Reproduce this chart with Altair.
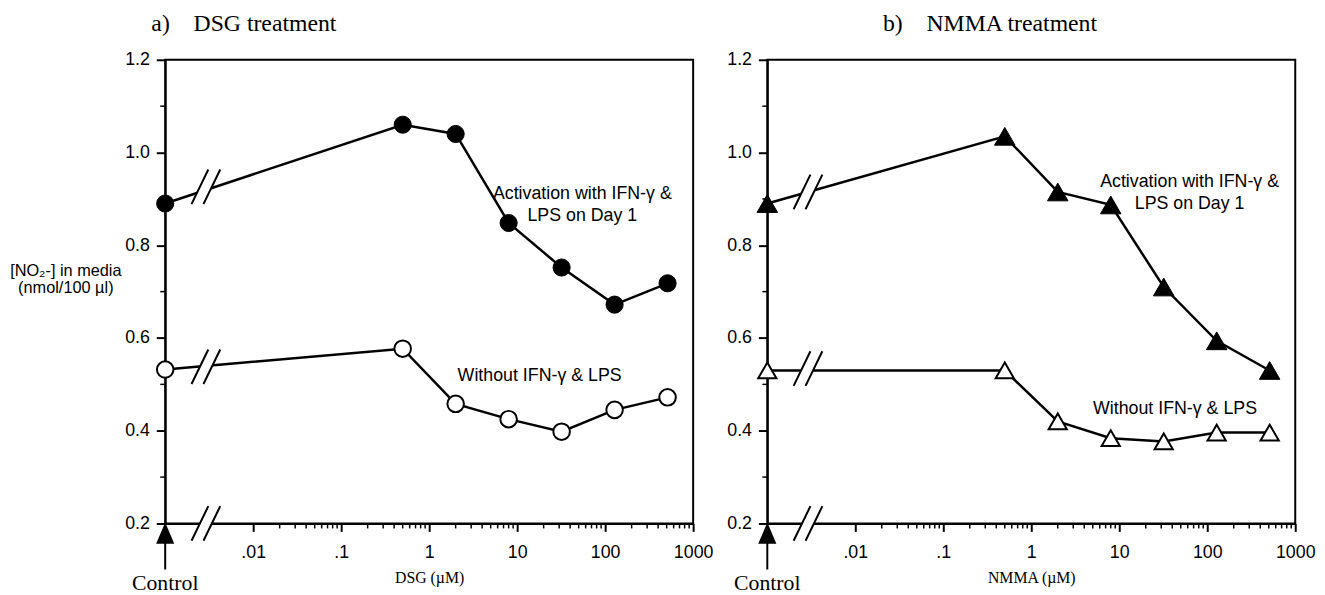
import altair as alt
import pandas as pd

# ---- data ----
control_x = 0.001
conc = [0.5, 2, 8, 32, 128, 512]

dsg_act = [0.89, 1.06, 1.04, 0.848, 0.752, 0.672, 0.718]
dsg_none = [0.532, 0.577, 0.458, 0.425, 0.398, 0.445, 0.472]
nmma_act = [0.89, 1.035, 0.915, 0.887, 0.71, 0.594, 0.53]
nmma_none = [0.53, 0.53, 0.42, 0.384, 0.377, 0.396, 0.396]

# y of the "//" break symbols on each line, plus the x-axis break
break_x = 0.0029
dsg_breaks = [0.926, 0.538, 0.2]
nmma_breaks = [0.915, 0.534, 0.2]

x_major = [0.01, 0.1, 1, 10, 100, 1000]
x_labels = [".01", ".1", "1", "10", "100", "1000"]
x_minor = [m * 10.0 ** k for k in range(-2, 3) for m in range(2, 10)]
y_major = [0.2, 0.4, 0.6, 0.8, 1.0, 1.2]
y_minor = [0.3, 0.5, 0.7, 0.9, 1.1]

ann_act = "Activation with IFN-\u03b3 &\nLPS on Day 1"
ann_none = "Without IFN-\u03b3 & LPS"
dsg_ann = [(55, 0.911, ann_act), (18, 0.517, ann_none)]
nmma_ann = [(63, 0.937, ann_act), (43, 0.446, ann_none)]

SANS = "Liberation Sans"
SERIF = "Liberation Serif"

GAP_PATH = "M-0.83,1L0.14,-1L0.83,-1L-0.14,1Z"
SLASH_PATH = "M-0.83,1L0.14,-1M-0.14,1L0.83,-1"
ARROW_PATH = "M0,-1L0.34,-0.2L-0.34,-0.2ZM0,-0.25L0,1"

label_expr = " : ".join(
    f"abs(datum.value - {v}) < {v/100} ? '{l}'" for v, l in zip(x_major, x_labels)
) + " : ''"


def panel(act, none, breaks, anns, act_shape, sizes, title_text, title_dx, xtitle, show_ytitle):
    xs = [control_x] + conc
    x_scale = alt.Scale(type="log", domain=[0.001, 1000], nice=False)
    y_scale = alt.Scale(domain=[0.2, 1.2], nice=False, zero=False)

    X = alt.X(
        "x:Q",
        scale=x_scale,
        axis=alt.Axis(
            values=x_major,
            labelExpr=label_expr,
            tickSize=8,
            tickWidth=2,
            tickColor="black",
            domainColor="black",
            domainWidth=2,
            labelFont=SANS,
            labelFontSize=18,
            labelColor="black",
            labelPadding=12,
            labelFlush=False,
            labelOverlap=False,
            grid=False,
            title=xtitle,
            titleFont=SERIF,
            titleFontSize=16,
            titleFontWeight="normal",
            titleColor="black",
            titlePadding=9,
        ),
    )
    yaxis = dict(
        values=y_major,
        format=".1f",
        tickSize=9,
        tickWidth=2,
        tickColor="black",
        domainColor="black",
        domainWidth=2,
        labelFont=SANS,
        labelFontSize=18,
        labelColor="black",
        labelPadding=7,
        grid=False,
    )
    if show_ytitle:
        yaxis.update(
            title=["[NO\u2082-] in media", "(nmol/100 \u00b5l)"],
            titleAngle=0,
            titleX=-101,
            titleY=213,
            titleAlign="center",
            titleBaseline="middle",
            titleFont=SANS,
            titleFontSize=16.5,
            titleFontWeight="normal",
            titleColor="black",
            titleLineHeight=17,
        )
    else:
        yaxis.update(title=None)
    Y = alt.Y("y:Q", scale=y_scale, axis=alt.Axis(**yaxis))

    df_a = pd.DataFrame({"x": xs, "y": act})
    df_n = pd.DataFrame({"x": xs, "y": none})
    df_b = pd.DataFrame({"x": [break_x] * len(breaks), "y": breaks})
    df_ctrl = pd.DataFrame({"x": [control_x], "y": [0.2]})
    df_xminor = pd.DataFrame({"x": x_minor, "y": [0.2] * len(x_minor)})
    df_yminor = pd.DataFrame({"x": [control_x] * len(y_minor), "y": y_minor})
    df_ann = pd.DataFrame({"x": [a[0] for a in anns], "y": [a[1] for a in anns], "t": [a[2] for a in anns]})

    line_a = alt.Chart(df_a).mark_line(color="black", strokeWidth=2.5).encode(x=X, y=Y)
    line_n = alt.Chart(df_n).mark_line(color="black", strokeWidth=2.5).encode(x=X, y=Y)
    gaps = alt.Chart(df_b).mark_point(
        shape=GAP_PATH, filled=True, fill="white", strokeWidth=0, size=1225, opacity=1
    ).encode(x=X, y=Y)
    slashes = alt.Chart(df_b).mark_point(
        shape=SLASH_PATH, filled=False, color="black", strokeWidth=2, size=1225, opacity=1
    ).encode(x=X, y=Y)
    pts_a = alt.Chart(df_a).mark_point(
        shape=act_shape, filled=True, fill="black", stroke="black", strokeWidth=1, size=sizes[0], opacity=1
    ).encode(x=X, y=Y)
    pts_n = alt.Chart(df_n).mark_point(
        shape=act_shape, filled=True, fill="white", stroke="black", strokeWidth=2, size=sizes[1], opacity=1
    ).encode(x=X, y=Y)
    xminor = alt.Chart(df_xminor).mark_tick(
        orient="vertical", size=5, thickness=1.5, yOffset=2.5, color="black", opacity=1
    ).encode(x=X, y=Y)
    yminor = alt.Chart(df_yminor).mark_tick(
        orient="horizontal", size=5, thickness=1.5, xOffset=-2.5, color="black", opacity=1
    ).encode(x=X, y=Y)
    arrow = alt.Chart(df_ctrl).mark_point(
        shape=ARROW_PATH, filled=True, fill="black", stroke="black", strokeWidth=2, size=2025, yOffset=24, opacity=1
    ).encode(x=X, y=Y)
    ctrl_txt = alt.Chart(df_ctrl).mark_text(
        text="Control", font=SERIF, fontSize=22, dy=60, align="center", baseline="middle", color="black"
    ).encode(x=X, y=Y)
    ann = alt.Chart(df_ann).mark_text(
        font=SANS, fontSize=18, align="center", baseline="middle", lineBreak="\n", lineHeight=23, color="black"
    ).encode(x=X, y=Y, text="t:N")

    return alt.layer(
        xminor, yminor, line_a, line_n, gaps, slashes, pts_a, pts_n, arrow, ctrl_txt, ann
    ).properties(
        width=534,
        height=469,
        title=alt.TitleParams(
            text=title_text,
            font=SERIF,
            fontSize=24,
            fontWeight="normal",
            color="black",
            anchor="start",
            frame="group",
            dx=title_dx,
            offset=15,
        ),
    )


left = panel(dsg_act, dsg_none, dsg_breaks, dsg_ann, "circle", (300, 280),
             "a)\u00a0\u00a0\u00a0\u00a0DSG treatment", -14, "DSG (\u00b5M)", True)
right = panel(nmma_act, nmma_none, nmma_breaks, nmma_ann, "triangle-up", (430, 340),
              "b)\u00a0\u00a0\u00a0\u00a0NMMA treatment", 117, "NMMA (\u00b5M)", False)

chart = alt.hconcat(left, right, spacing=10).configure_view(
    stroke="black", strokeWidth=2
).properties(background="white", padding=0)

chart.save("out.html", embed_options={"renderer": "svg", "actions": False})
